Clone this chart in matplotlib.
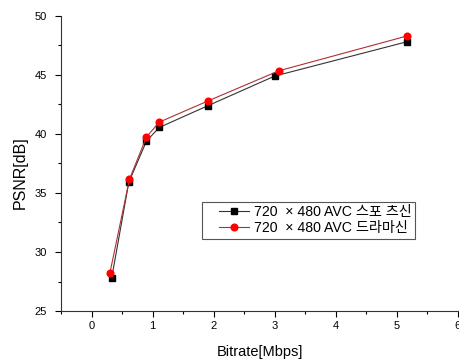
import numpy as np
import matplotlib.pyplot as plt
from matplotlib.ticker import MultipleLocator
from matplotlib.legend_handler import HandlerLine2D

plt.rcParams['font.family'] = ['Liberation Sans', 'Noto Sans CJK KR', 'DejaVu Sans']

# PSNR vs bitrate for two AVC sequences
sports_rate = [0.33, 0.61, 0.90, 1.11, 1.91, 3.00, 5.16]
sports_psnr = [27.8, 35.9, 39.4, 40.55, 42.4, 44.9, 47.8]
drama_rate = [0.30, 0.62, 0.90, 1.11, 1.91, 3.07, 5.17]
drama_psnr = [28.2, 36.15, 39.75, 41.0, 42.8, 45.35, 48.3]

labels = ['720  × 480 AVC 스포 츠신', '720  × 480 AVC 드라마신']

fig = plt.figure(figsize=(4.6, 3.6), dpi=100)
ax = fig.add_axes([0.1326, 0.136, 0.863, 0.82])

ax.plot(sports_rate, sports_psnr, color='#333333', lw=0.8, marker='s', ms=4.2,
        mfc='black', mec='black', label=labels[0])
ax.plot(drama_rate, drama_psnr, color='#b03030', lw=0.8, marker='o', ms=4.8,
        mfc='red', mec='red', label=labels[1])

ax.set_xlim(-0.5, 6)
ax.set_ylim(25, 50)
ax.xaxis.set_major_locator(MultipleLocator(1))
ax.xaxis.set_minor_locator(MultipleLocator(0.5))
ax.yaxis.set_major_locator(MultipleLocator(5))
ax.yaxis.set_minor_locator(MultipleLocator(2.5))
ax.tick_params(which='major', direction='out', length=4, width=0.8, labelsize=8)
ax.tick_params(axis='y', which='major', pad=6)
ax.tick_params(which='minor', direction='out', length=2.5, width=0.8)
for s in ['top', 'right']:
    ax.spines[s].set_visible(False)
for s in ['left', 'bottom']:
    ax.spines[s].set_linewidth(0.8)
    ax.spines[s].set_color('#333333')

ax.set_xlabel('Bitrate[Mbps]', fontsize=10.5, labelpad=10)
ax.set_ylabel('PSNR[dB]', fontsize=11.5)
ax.yaxis.set_label_coords(-0.083, 0.47)

# extra room on the left of the legend handles
leg = ax.legend(loc='upper left', bbox_to_anchor=(0.354, 0.37), fontsize=10.2,
                fancybox=False, edgecolor='#555555', framealpha=1,
                handlelength=3.1, borderpad=0.25, labelspacing=0.12,
                handletextpad=0.35, borderaxespad=0,
                handler_map={plt.Line2D: HandlerLine2D(xpad=1.0)})
leg.get_frame().set_linewidth(0.8)

fig.savefig('out.png')
